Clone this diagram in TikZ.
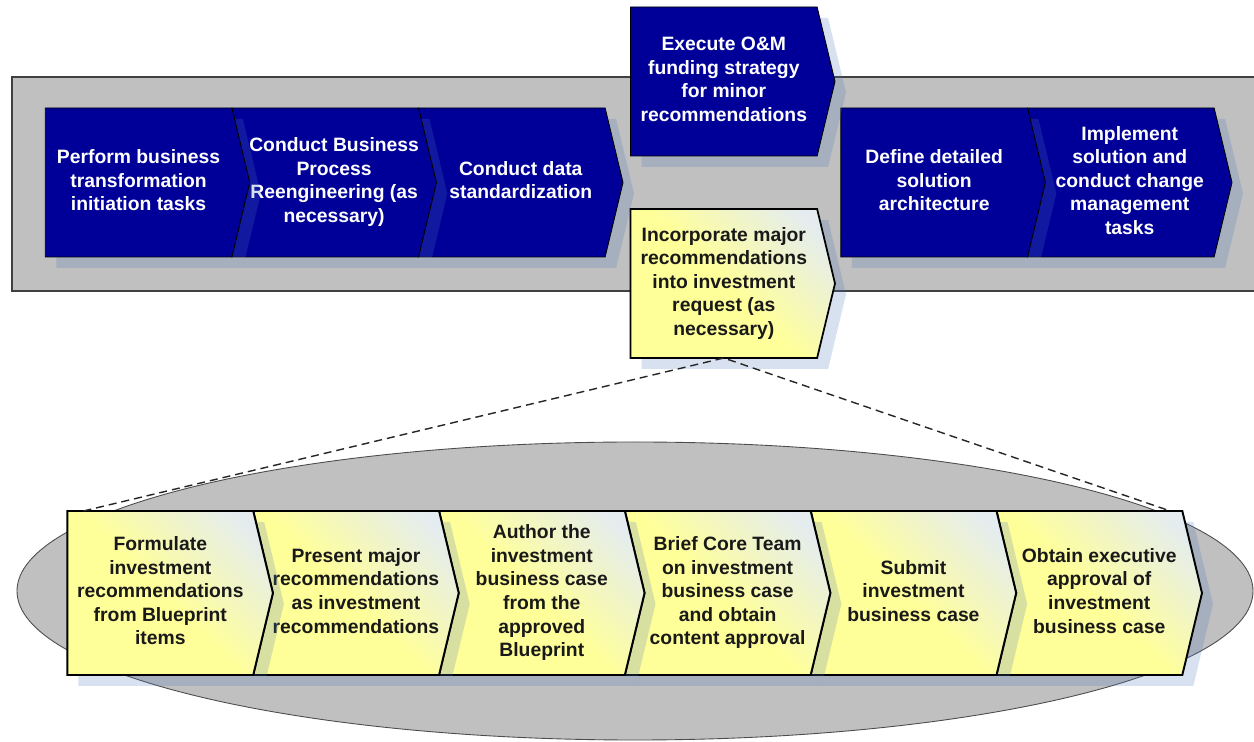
\documentclass[tikz,border=0pt]{standalone}
\usepackage{fontspec}
\setmainfont{Liberation Sans}
\usetikzlibrary{
	chains,
	positioning,
	scopes,
	shadows,
	shapes.symbols
}
\definecolor{stepblue}{RGB}{0,0,153}
\definecolor{stepyellow}{RGB}{255,255,153}
\definecolor{steppale}{RGB}{228,236,240}
\definecolor{panelgray}{RGB}{192,192,192}
\definecolor{shadowblue}{RGB}{73,118,186}
\pgfdeclareverticalshading{stepglow}{100bp}{color(0bp)=(stepyellow); color(48bp)=(stepyellow); color(78bp)=(steppale); color(100bp)=(steppale)}
\newcommand{\steptext}[1]{\makebox[0pt]{\begin{tabular}{@{}c@{}}#1\end{tabular}}}

\begin{document}
\begin{tikzpicture}[
		x=0.2mm, y=-0.2mm,
		node distance = 0pt,
		StepShadow/.style={drop shadow={shadow xshift=2.2mm, shadow yshift=-2.2mm, fill=shadowblue, opacity=0.22}},
		StepBase/.style={signal, signal to=east, signal pointer angle=153, inner sep=0pt, outer sep=0pt, StepShadow, font=\fontsize{11}{13.4}\selectfont\bfseries},
		BlueStep/.style={StepBase, draw=black, line width=0.5pt, fill=stepblue, text=white, minimum width=40.9mm, minimum height=29.8mm},
		YellowStep/.style={StepBase, draw=black, line width=1.1pt, shade, shading=stepglow, shading angle=-45, text=black!90, minimum width=41.1mm, minimum height=32.8mm},
		Notched/.style={signal from=west}]
	\useasboundingbox (0,0) rectangle (1254,742);
	% panel and zoom ellipse
	\draw[fill=panelgray, draw=black!75, line width=0.7pt] (12,77) rectangle (1275,291);
	\draw[fill=panelgray, draw=black!70, line width=0.5pt] (635,591) ellipse [x radius=618, y radius=149];

	% top row, left part
	\begin{scope}[start chain=front going left]
		\node [BlueStep, Notched, on chain, at={(623,182.5)}, anchor=east] (datastd) {\steptext{Conduct data\\standardization}};
		\node [BlueStep, Notched, on chain] (bpr) {\steptext{Conduct Business\\Process\\Reengineering (as\\necessary)}};
		\node [BlueStep, on chain] (perform) {\steptext{Perform business\\transformation\\initiation tasks}};
	\end{scope}
	% top row, right part
	\begin{scope}[start chain=back going left]
		\node [BlueStep, Notched, on chain, at={(1232,182.5)}, anchor=east] (implement) {\steptext{Implement\\solution and\\conduct change\\management\\tasks}};
		\node [BlueStep, on chain] (define) {\steptext{Define detailed\\solution\\architecture}};
	\end{scope}
	\node [BlueStep, anchor=east] (execute) at (835,81.5) {\steptext{Execute O\&M\\funding strategy\\for minor\\recommendations}};
	\node [YellowStep, line width=1pt, minimum width=40.9mm, minimum height=29.8mm, anchor=east] (incorporate) at (835,283.5) {\steptext{Incorporate major\\recommendations\\into investment\\request (as\\necessary)}};

	% zoomed steps
	\begin{scope}[start chain=zoom going left]
		\node [YellowStep, Notched, on chain, at={(1202,593)}, anchor=east] (obtain) {\steptext{Obtain executive\\approval of\\investment\\business case}};
		\node [YellowStep, Notched, on chain] (submit) {\steptext{Submit\\investment\\business case}};
		\node [YellowStep, Notched, on chain] (brief) {\steptext{Brief Core Team\\on investment\\business case\\and obtain\\content approval}};
		\node [YellowStep, Notched, on chain] (author) {\steptext{Author the\\investment\\business case\\from the\\approved\\Blueprint}};
		\node [YellowStep, Notched, on chain] (present) {\steptext{Present major\\recommendations\\as investment\\recommendations}};
		\node [YellowStep, on chain] (formulate) {\steptext{Formulate\\investment\\recommendations\\from Blueprint\\items}};
	\end{scope}

	\draw[dashed, dash pattern=on 1.6mm off 1mm, line width=0.8pt, black!85] ([xshift=3.2mm]formulate.north west) -- (incorporate.south) -- ([xshift=-2.4mm]obtain.north east);
\end{tikzpicture}
\end{document}
